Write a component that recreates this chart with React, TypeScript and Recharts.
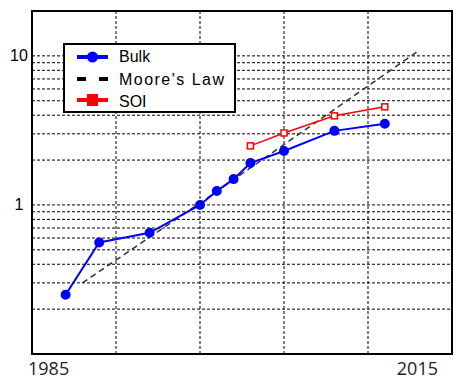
import React from 'react';
import {
  LineChart,
  Line,
  XAxis,
  YAxis,
  ReferenceLine,
  ReferenceArea,
  Legend
} from 'recharts';

// values (relative performance, log scale)
const bulkYears = [1987, 1989, 1992, 1995, 1996, 1997, 1998, 2000, 2003, 2006];
const bulkValues = [0.25, 0.56, 0.65, 1.0, 1.24, 1.49, 1.91, 2.3, 3.14, 3.5];

const soiYears = [1998, 2000, 2003, 2006];
const soiValues = [2.49, 3.04, 3.96, 4.55];

const mooreYears = [1988, 1995, 2008];
const mooreValues = [0.3, 1.03, 10.8];

const xDomain = [1985, 2010];
const xTickLabels = ['1985', '2015'];
const xGridYears = [1990, 1995, 2000, 2005];

const yDomain = [0.1, 20];
const yTicks = [1, 10];
const yGridValues = [0.2, 0.3, 0.4, 0.5, 0.6, 0.7, 0.8, 0.9, 1, 2, 3, 4, 5, 6, 7, 8, 9, 10];

const bulkData = bulkYears.map((year, i) => ({ year, value: bulkValues[i] }));
const soiData = soiYears.map((year, i) => ({ year, value: soiValues[i] }));
const mooreData = mooreYears.map((year, i) => ({ year, value: mooreValues[i] }));

const FONT = '"Liberation Sans", Arial, sans-serif';

const SquareDot = (props: any) => {
  const { cx, cy } = props;
  if (cx == null || cy == null) return null;
  return <rect x={cx - 3} y={cy - 3} width={6} height={6} fill="#fff" stroke="#ff0000" strokeWidth={1.5} />;
};

const XTick = (props: any) => {
  const { x, payload } = props;
  const first = payload.value === xDomain[0];
  return (
    <text
      x={first ? x - 4 : x}
      y={375}
      textAnchor={first ? 'start' : 'end'}
      fontSize={18}
      fontFamily='"Open Sans", sans-serif'
      fill="#222"
    >
      {first ? xTickLabels[0] : xTickLabels[1]}
    </text>
  );
};

const YTick = (props: any) => {
  const { y, payload } = props;
  return (
    <text x={19} y={y} dy={5.5} textAnchor="middle" fontSize={16} fontFamily={FONT} fill="#000">
      {payload.value}
    </text>
  );
};

const LegendBox = () => (
  <svg width={173} height={70} style={{ display: 'block' }}>
    <rect x={1} y={1} width={171} height={68} fill="#fff" stroke="#000" strokeWidth={2} />
    {/* Bulk */}
    <line x1={14} y1={14} x2={45} y2={14} stroke="#0000ff" strokeWidth={4} />
    <circle cx={29.5} cy={14} r={5.5} fill="#0000ff" />
    <text x={56} y={19} fontSize={16} fontFamily={FONT} fill="#000">Bulk</text>
    {/* Moore's Law */}
    <line x1={14} y1={36} x2={23} y2={36} stroke="#000" strokeWidth={4} />
    <line x1={36} y1={36} x2={45} y2={36} stroke="#000" strokeWidth={4} />
    <text x={56} y={42} fontSize={16} fontFamily={FONT} fill="#000" textLength={105} lengthAdjust="spacing">
      Moore's Law
    </text>
    {/* SOI */}
    <line x1={14} y1={57} x2={45} y2={57} stroke="#ff0000" strokeWidth={4} />
    <rect x={24} y={51} width={11} height={12} fill="#ff0000" />
    <text x={56} y={64} fontSize={16} fontFamily={FONT} fill="#000">SOI</text>
  </svg>
);

const App: React.FC = () => {
  return (
    <div style={{ position: 'absolute', left: 0, top: 0, width: 454, height: 380, background: '#fff' }}>
      <LineChart width={454} height={380} margin={{ top: 11, right: 2, bottom: 0, left: 0 }}>
        <XAxis
          type="number"
          dataKey="year"
          domain={xDomain}
          ticks={xDomain}
          allowDataOverflow
          axisLine={false}
          tickLine={false}
          height={26}
          tick={<XTick />}
        />
        <YAxis
          type="number"
          scale="log"
          domain={yDomain}
          ticks={yTicks}
          allowDataOverflow
          axisLine={false}
          tickLine={false}
          width={32}
          tick={<YTick />}
        />
        {yGridValues.map(v => (
          <ReferenceLine key={'y' + v} y={v} stroke="#000" strokeWidth={1} strokeDasharray="3 2" />
        ))}
        {xGridYears.map(v => (
          <ReferenceLine key={'x' + v} x={v} stroke="#000" strokeWidth={1} strokeDasharray="3 2" />
        ))}
        <ReferenceArea
          x1={xDomain[0]}
          x2={xDomain[1]}
          y1={yDomain[0]}
          y2={yDomain[1]}
          fill="none"
          fillOpacity={0}
          stroke="#000"
          strokeWidth={2}
        />
        <Line
          data={mooreData}
          dataKey="value"
          name="Moore's Law"
          stroke="#333"
          strokeWidth={1.5}
          strokeDasharray="6 4"
          dot={false}
          isAnimationActive={false}
        />
        <Line
          data={bulkData}
          dataKey="value"
          name="Bulk"
          stroke="#0000ff"
          strokeWidth={2}
          dot={{ r: 4, fill: '#0000ff', stroke: '#0000ff' }}
          isAnimationActive={false}
        />
        <Line
          data={soiData}
          dataKey="value"
          name="SOI"
          stroke="#ff0000"
          strokeWidth={1.5}
          dot={<SquareDot />}
          isAnimationActive={false}
        />
        <Legend
          layout="vertical"
          align="center"
          verticalAlign="middle"
          content={() => <LegendBox />}
          wrapperStyle={{ left: 63, top: 43, width: 173, height: 70 }}
        />
      </LineChart>
    </div>
  );
};

export default App;
